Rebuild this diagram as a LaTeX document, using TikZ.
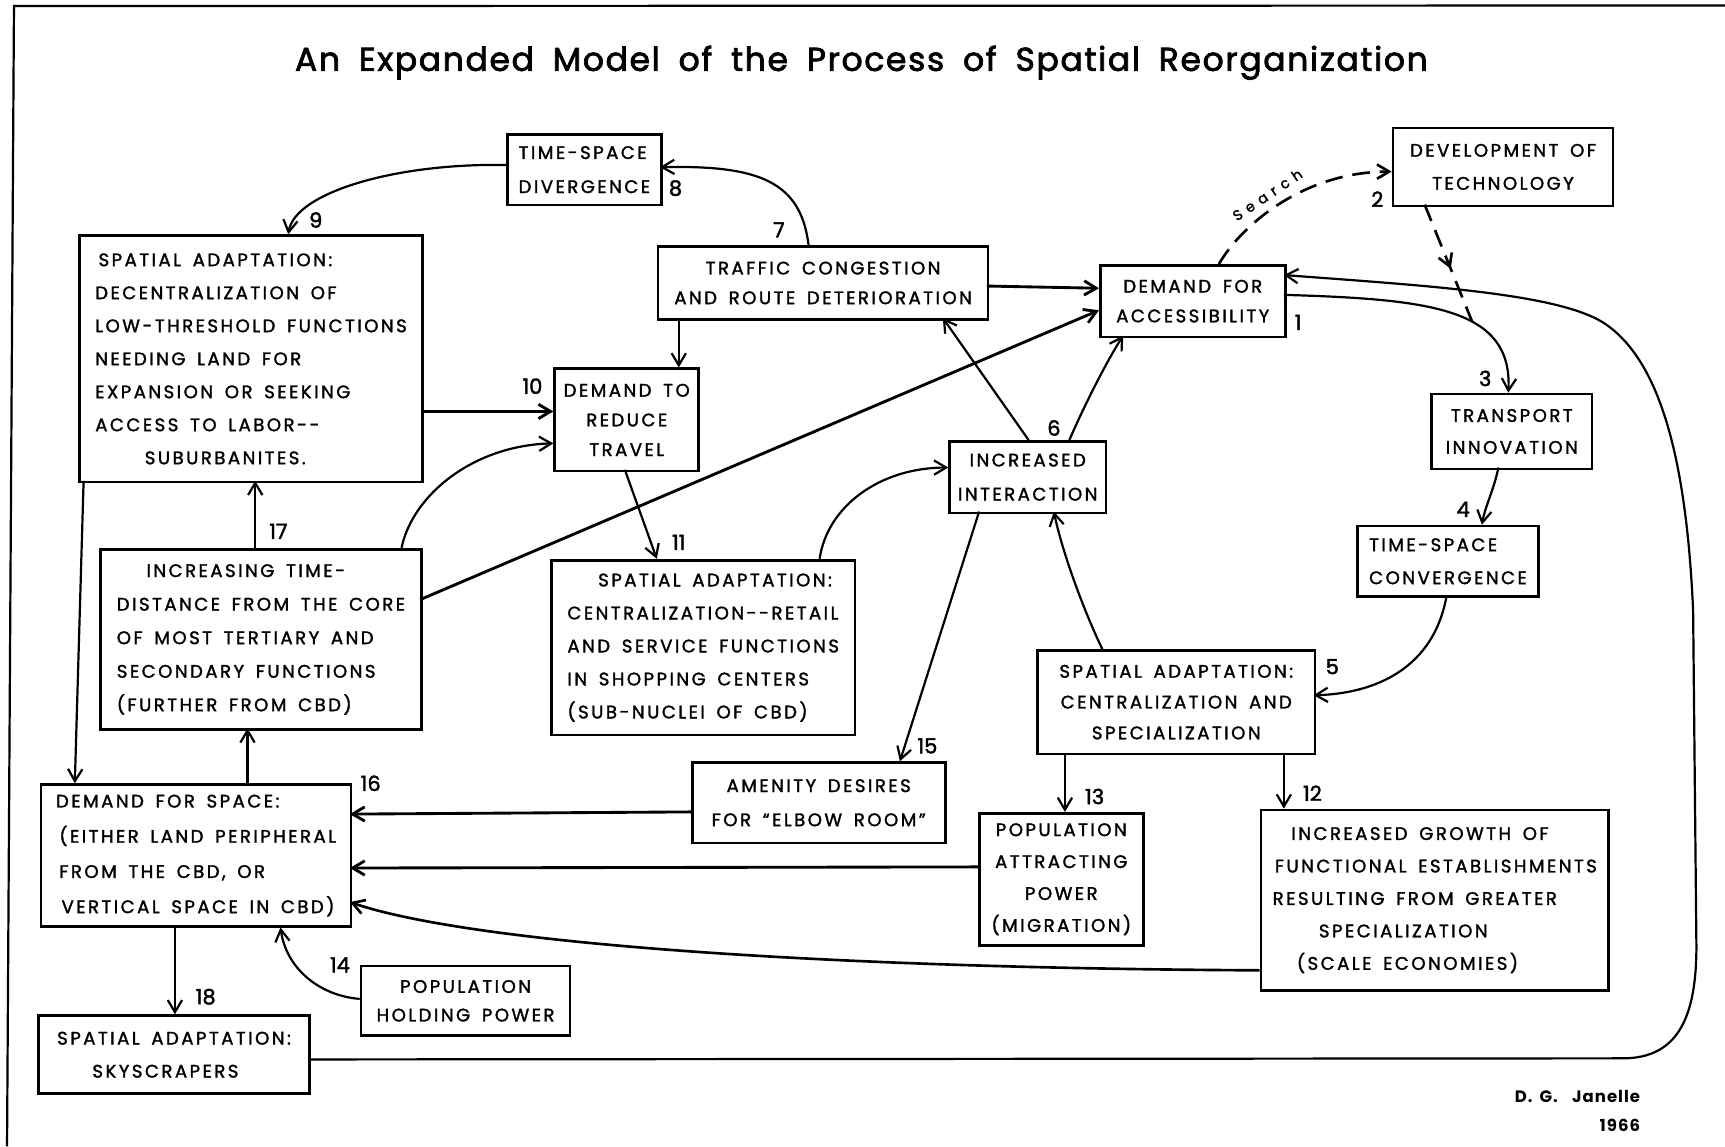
\documentclass[tikz,border=0pt]{standalone}
\usepackage{fontspec}
\setmainfont{Poppins}
\newfontfamily\boxfont[LetterSpace=13.5,WordSpace=1.6,FakeBold=1.6]{Poppins}
\newfontfamily\titlefont[LetterSpace=5,WordSpace=1.8,FakeBold=2.2]{Poppins}
\newfontfamily\numfont[FakeBold=2]{Poppins}
\newfontfamily\searchfont[LetterSpace=42,FakeBold=1.5]{Poppins}
\newfontfamily\sigfont[LetterSpace=6,WordSpace=1.6]{Poppins}
\usetikzlibrary{arrows.meta,calc,decorations.markings}
\tikzset{
  lsk/.style={font=\boxfont\fontsize{16.5}{#1}\selectfont},
  bx/.style={draw, line width=2.4pt, anchor=north west, inner sep=1pt, lsk=30},
  tip/.style={-{Straight Barb[length=11pt,width=13pt]}},
  conn/.style={line width=2pt, tip},
  dconn/.style={line width=2.4pt, dash pattern=on 16pt off 9pt},
  num/.style={font=\numfont\fontsize{19}{19}\selectfont, inner sep=0pt},
  sig/.style={font=\sigfont\bfseries\fontsize{15}{15}\selectfont, inner sep=0pt, anchor=east},
}
\begin{document}
\begin{tikzpicture}[x=1pt,y=-1pt]
\useasboundingbox (0,0) rectangle (1568,1042);
\draw[line width=2pt] (6.4,1042) -- (12.7,5.5) -- (1568,5);

\node[font=\titlefont\fontsize{30}{36}\selectfont] (title) at (783,57) {An Expanded Model of the Process of Spatial Reorganization};

% boxes
\node[bx,minimum width=168pt,minimum height=65pt,align=center,lsk=27] (n1) at (999,240) {DEMAND FOR\\ACCESSIBILITY};
\node[bx,minimum width=200pt,minimum height=71pt,align=center] (n2) at (1265,115) {DEVELOPMENT OF\\TECHNOLOGY};
\node[bx,minimum width=146pt,minimum height=68pt,align=center,lsk=29] (n3) at (1300,357) {TRANSPORT\\INNOVATION};
\node[bx,minimum width=164pt,minimum height=64pt,align=left] (n4) at (1233,477) {TIME-SPACE\\CONVERGENCE};
\node[bx,minimum width=252pt,minimum height=94pt,align=center,lsk=28] (n5) at (942,590) {SPATIAL ADAPTATION:\\CENTRALIZATION AND\\SPECIALIZATION};
\node[bx,minimum width=142pt,minimum height=65pt,align=center,lsk=31] (n6) at (862,400) {INCREASED\\INTERACTION};
\node[bx,minimum width=300pt,minimum height=66pt,align=center,lsk=27] (n7) at (597,223) {TRAFFIC CONGESTION\\AND ROUTE DETERIORATION};
\node[bx,minimum width=140pt,minimum height=64pt,align=left,lsk=31] (n8) at (460,121) {TIME-SPACE\\DIVERGENCE};
\node[bx,minimum width=312pt,minimum height=224pt,align=left] (n9) at (71,213) {\hspace*{3pt}SPATIAL ADAPTATION:\\DECENTRALIZATION OF\\LOW-THRESHOLD FUNCTIONS\\NEEDING LAND FOR\\EXPANSION OR SEEKING\\ACCESS TO LABOR--\\\hspace*{45pt}SUBURBANITES.};
\node[bx,minimum width=131pt,minimum height=93pt,align=center,lsk=27] (n10) at (503,334) {DEMAND TO\\REDUCE\\TRAVEL};
\node[bx,minimum width=276pt,minimum height=159pt,align=left] (n11) at (500,508) {\hspace*{28pt}SPATIAL ADAPTATION:\\CENTRALIZATION--RETAIL\\AND SERVICE FUNCTIONS\\IN SHOPPING CENTERS\\(SUB-NUCLEI OF CBD)};
\node[bx,minimum width=316pt,minimum height=164pt,align=left,lsk=29.5] (n12) at (1145,735) {\hspace*{17pt}INCREASED GROWTH OF\\\hspace*{2pt}FUNCTIONAL ESTABLISHMENTS\\RESULTING FROM GREATER\\\hspace*{42pt}SPECIALIZATION\\\hspace*{22pt}(SCALE ECONOMIES)};
\node[bx,minimum width=149pt,minimum height=120pt,align=center,lsk=29] (n13) at (889,738) {POPULATION\\ATTRACTING\\POWER\\(MIGRATION)};
\node[bx,minimum width=190pt,minimum height=63pt,align=center,lsk=26] (n14) at (327,877) {POPULATION\\HOLDING POWER};
\node[bx,minimum width=230pt,minimum height=73pt,align=center,lsk=31] (n15) at (628,692) {AMENITY DESIRES\\FOR “ELBOW ROOM”};
\node[bx,minimum width=282pt,minimum height=129pt,align=left,lsk=32] (n16) at (36,712) {DEMAND FOR SPACE:\\\hspace*{3pt}(EITHER LAND PERIPHERAL\\\hspace*{3pt}FROM THE CBD, OR\\\hspace*{5pt}VERTICAL SPACE IN CBD)};
\node[bx,minimum width=292pt,minimum height=164pt,align=left,lsk=30.5] (n17) at (90,498) {\hspace*{27pt}INCREASING TIME-\\DISTANCE FROM THE CORE\\OF MOST TERTIARY AND\\SECONDARY FUNCTIONS\\(FURTHER FROM CBD)};
\node[bx,minimum width=246pt,minimum height=71pt,align=left] (n18) at (34,922) {SPATIAL ADAPTATION:\\\hspace*{32pt}SKYSCRAPERS};

% number labels
\node[num] (l1) at (1180,293) {1};
\node[num] (l2) at (1252,181) {2};
\node[num] (l3) at (1350,344) {3};
\node[num] (l4) at (1330,463) {4};
\node[num] (l5) at (1211,606) {5};
\node[num] (l6) at (958,389) {6};
\node[num] (l7) at (708,209) {7};
\node[num] (l8) at (614,171) {8};
\node[num] (l9) at (287,200) {9};
\node[num] (l10) at (484,351) {10};
\node[num] (l11) at (617,493) {11};
\node[num] (l12) at (1193,721) {12};
\node[num] (l13) at (995,724) {13};
\node[num] (l14) at (309,877) {14};
\node[num] (l15) at (843,678) {15};
\node[num] (l16) at (337,712) {16};
\node[num] (l17) at (253,483) {17};
\node[num] (l18) at (187,906) {18};

% connectors
\draw[conn] ($(n7.north west)+(138,0)$) .. controls (728,165) and (690,150) .. ($(n8.north west)+(140,31)$);
\draw[conn] ($(n8.north west)+(0,29)$) .. controls (360,148) and (268,175) .. ($(n9.north west)+(191,0)$);
\draw[conn,line width=2.6pt] ($(n7.north west)+(300,37)$) -- ($(n1.north west)+(0,22)$);
\draw[conn] ($(n7.north west)+(20,66)$) -- ($(n10.north west)+(114,0)$);
\draw[conn,line width=2.6pt] ($(n9.north west)+(312,161)$) -- ($(n10.north west)+(0,40)$);
\draw[conn] ($(n17.north west)+(275,0)$) .. controls (375,450) and (430,405) .. ($(n10.north west)+(0,69)$);
\draw[conn,line width=2.6pt] ($(n17.north west)+(292,47)$) -- ($(n1.north west)+(0,42)$);
\draw[conn] ($(n10.north west)+(65,93)$) -- ($(n11.north west)+(97,0)$);
\draw[conn] ($(n11.north west)+(245,0)$) .. controls (752,460) and (800,425) .. ($(n6.north west)+(0,25)$);
\draw[conn] ($(n6.north west)+(73,0)$) -- ($(n7.north west)+(260,66)$);
\draw[conn] ($(n6.north west)+(110,0)$) .. controls (985,370) and (1005,330) .. ($(n1.north west)+(22,65)$);
\draw[conn] ($(n6.north west)+(28,65)$) -- ($(n15.north west)+(190,0)$);
\draw[conn] ($(n5.north west)+(60,0)$) .. controls (985,555) and (965,500) .. ($(n6.north west)+(96,65)$);
% search / technology
\draw[dconn,tip] ($(n1.north west)+(109,0)$) .. controls (1128,205) and (1185,156) .. ($(n2.north west)+(0,41)$);
\node[font=\searchfont\fontsize{13}{13}\selectfont, rotate=34, inner sep=0pt] (search) at (1152,177) {Search};
\coordinate (j23) at (1338,292);
\draw[dconn, postaction={decorate}, decoration={markings, mark=at position 0.55 with {\arrow{Straight Barb[length=11pt,width=13pt]}}}] ($(n2.north west)+(30,71)$) -- (j23);
\draw[conn] ($(n1.north west)+(168,28)$) .. controls (1300,272) and (1375,280) .. ($(n3.north west)+(71,0)$);
\draw[conn] ($(n3.north west)+(62,68)$) .. controls (1358,445) and (1350,460) .. ($(n4.north west)+(114,0)$);
\draw[conn] ($(n4.north west)+(82,64)$) .. controls (1305,600) and (1260,630) .. ($(n5.north west)+(252,42)$);
\draw[conn] ($(n18.north west)+(246,41)$) -- (1475,962) .. controls (1525,962) and (1542,925) .. (1542,860) -- (1539,555) .. controls (1533,420) and (1510,330) .. (1460,295) .. controls (1420,267) and (1300,260) .. ($(n1.north west)+(168,10)$);
% left column
\draw[conn] ($(n16.north west)+(189,0)$) -- ($(n17.north west)+(135,164)$);
\draw[conn] ($(n17.north west)+(142,0)$) -- ($(n9.north west)+(161,224)$);
\draw[conn] ($(n9.north west)+(5,224)$) -- ($(n16.north west)+(32,0)$);
\draw[conn,line width=2.6pt] ($(n15.north west)+(0,46)$) -- ($(n16.north west)+(282,28)$);
\draw[conn,line width=2.6pt] ($(n13.north west)+(0,50)$) -- ($(n16.north west)+(282,77)$);
\draw[conn,line width=2.4pt] ($(n12.north west)+(0,147)$) .. controls (750,880) and (430,858) .. ($(n16.north west)+(282,108)$);
\draw[conn] ($(n14.north west)+(0,31)$) .. controls (290,905) and (260,880) .. ($(n16.north west)+(219,131)$);
\draw[conn] ($(n16.north west)+(123,129)$) -- ($(n18.north west)+(125,0)$);
\draw[conn] ($(n5.north west)+(26,94)$) -- ($(n13.north west)+(79,0)$);
\draw[conn] ($(n5.north west)+(225,94)$) -- ($(n12.north west)+(22,0)$);

\node[sig] (sig) at (1491,997) {D.~G.\ \ Janelle};
\node[sig] (yr) at (1491,1023) {1966};
\end{tikzpicture}
\end{document}
